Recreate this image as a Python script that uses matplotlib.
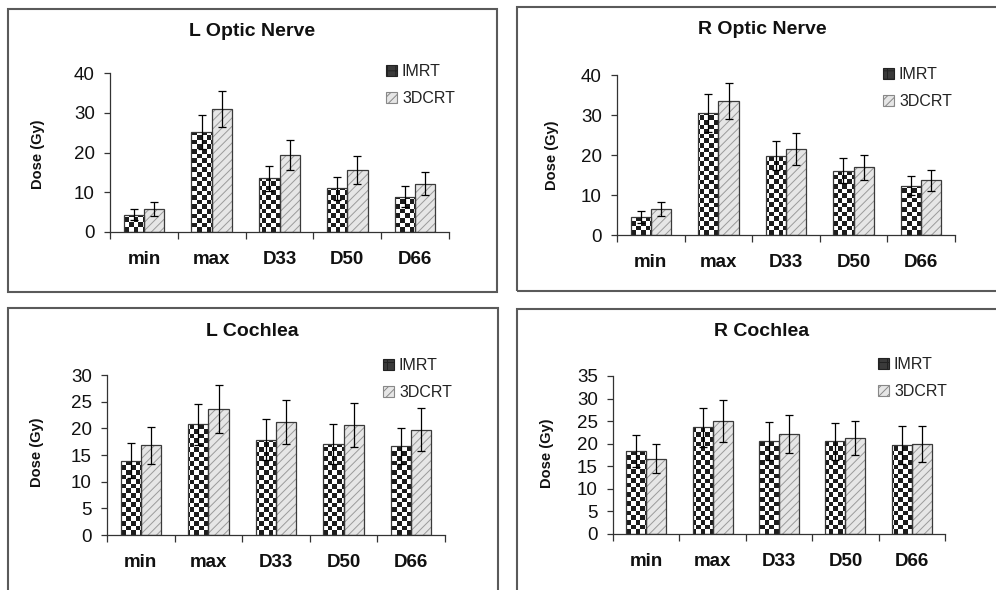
import numpy as np
import matplotlib
matplotlib.use('Agg')
import matplotlib.pyplot as plt
from matplotlib.colors import ListedColormap
from matplotlib.patches import Rectangle, Patch

plt.rcParams['font.family'] = ['Liberation Sans', 'DejaVu Sans']
plt.rcParams['hatch.linewidth'] = 0.7

W, H = 996, 590

# dane
cats = ['min', 'max', 'D33', 'D50', 'D66']
series = ['IMRT', '3DCRT']

lon_imrt = [4.3, 25.1, 13.5, 11.0, 8.9]
lon_imrt_sd = [1.4, 4.3, 3.2, 2.9, 2.7]
lon_3d = [5.7, 31.0, 19.4, 15.6, 12.2]
lon_3d_sd = [1.8, 4.5, 3.7, 3.4, 2.9]

ron_imrt = [4.5, 30.5, 19.8, 16.1, 12.3]
ron_imrt_sd = [1.5, 4.7, 3.6, 3.1, 2.35]
ron_3d = [6.5, 33.4, 21.4, 16.9, 13.65]
ron_3d_sd = [1.8, 4.5, 4.0, 3.1, 2.6]

lco_imrt = [13.9, 20.75, 17.9, 17.1, 16.7]
lco_imrt_sd = [3.3, 3.9, 3.8, 3.8, 3.4]
lco_3d = [16.8, 23.6, 21.2, 20.6, 19.75]
lco_3d_sd = [3.4, 4.5, 4.2, 4.1, 4.0]

rco_imrt = [18.4, 23.6, 20.7, 20.5, 19.8]
rco_imrt_sd = [3.5, 4.4, 4.2, 4.0, 4.2]
rco_3d = [16.7, 25.0, 22.2, 21.2, 20.0]
rco_3d_sd = [3.2, 4.7, 4.2, 3.8, 4.0]

titles = ['L Optic Nerve', 'R Optic Nerve', 'L Cochlea', 'R Cochlea']
ymax = [40, 40, 30, 35]
ystep = [10, 10, 5, 5]

# układ paneli w pikselach: osie, tytuł, opis osi y, legenda, ramka
axes_px = [(110, 73, 449, 232), (617, 75, 955, 235), (107, 375, 445, 535), (613, 376, 945, 534)]
title_px = [(252, 31), (762, 29), (252, 331), (762, 332)]
ylab_px = [(38, 154), (552, 155), (37, 452), (547, 453)]
leg_px = [(386, 64), (883, 67), (383, 358), (878, 357)]
frame_px = [(8, 9, 497, 292), (517, 7, 1010, 291), (8, 308, 498, 600), (517, 309, 1010, 600)]


def fx(x):
    return x / W


def fy(y):
    return 1 - y / H


def panel(fig, k, imrt, imrt_sd, d3, d3_sd):
    x0, y0, x1, y1 = axes_px[k]
    ax = fig.add_axes([fx(x0), fy(y1), (x1 - x0) / W, (y1 - y0) / H])
    x = np.arange(len(cats)) + 0.5
    bw = 0.3

    # IMRT - szachownica
    b1 = ax.bar(x - bw / 2, imrt, bw, color='white', edgecolor='none', zorder=1)
    cell = 4.6
    nx = int((x1 - x0) / cell) + 1
    ny = int((y1 - y0) / cell) + 1
    img = np.indices((ny, nx)).sum(axis=0) % 2
    cm = ListedColormap(['white', '#1c1c1c'])
    for b in b1:
        im = ax.imshow(img, cmap=cm, extent=(0, nx * cell * 5 / (x1 - x0), 0, ny * cell * ymax[k] / (y1 - y0)),
                       aspect='auto', interpolation='nearest', zorder=2, origin='lower')
        im.set_clip_path(b)
    ax.bar(x - bw / 2, imrt, bw, fill=False, edgecolor='#3a3a3a', linewidth=0.9, zorder=3)

    # 3DCRT - szare kreskowanie
    ax.bar(x + bw / 2, d3, bw, color='#e6e6e6', edgecolor='#9a9a9a', hatch='////', linewidth=0, zorder=1)
    ax.bar(x + bw / 2, d3, bw, fill=False, edgecolor='#3a3a3a', linewidth=0.9, zorder=3)

    ax.errorbar(x - bw / 2, imrt, yerr=imrt_sd, fmt='none', ecolor='black', elinewidth=0.9,
                capsize=3, capthick=0.9, zorder=4)
    ax.errorbar(x + bw / 2, d3, yerr=d3_sd, fmt='none', ecolor='black', elinewidth=0.9,
                capsize=3, capthick=0.9, zorder=4)

    ax.set_xlim(0, 5)
    ax.set_ylim(0, ymax[k])
    ax.set_yticks(np.arange(0, ymax[k] + 1, ystep[k]))
    ax.set_xticks(x)
    ax.set_xticklabels(cats, fontsize=13.5, fontweight='bold', color='#111')
    ax.set_xticks(np.arange(0, 6), minor=True)
    ax.tick_params(axis='x', which='major', length=0, pad=14)
    ax.tick_params(axis='x', which='minor', length=5, width=0.9, color='#333', direction='out')
    ax.tick_params(axis='y', length=4, width=0.9, color='#333', pad=7, labelsize=13.5, labelcolor='#111')
    for s in ['top', 'right']:
        ax.spines[s].set_visible(False)
    for s in ['left', 'bottom']:
        ax.spines[s].set_color('#333')
        ax.spines[s].set_linewidth(0.9)
    ax.set_facecolor('none')

    tx, ty = title_px[k]
    fig.text(fx(tx), fy(ty), titles[k], ha='center', va='center', fontsize=14, fontweight='bold', color='#111')
    lx, ly = ylab_px[k]
    fig.text(fx(lx), fy(ly), 'Dose (Gy)', ha='center', va='center', rotation=90,
             fontsize=10.5, fontweight='bold', color='#111')

    h1 = Patch(facecolor='#3a3a3a', edgecolor='#222', hatch='++', linewidth=0.8)
    h2 = Patch(facecolor='#e6e6e6', edgecolor='#888', hatch='////', linewidth=0.8)
    gx, gy = leg_px[k]
    ax.legend([h1, h2], series, loc='upper left', bbox_to_anchor=(fx(gx), fy(gy)),
              bbox_transform=fig.transFigure, frameon=False, fontsize=11.5,
              handlelength=0.7, handleheight=0.7, handletextpad=0.3, labelspacing=0.75,
              borderpad=0, borderaxespad=0, labelcolor='#222')

    fx0, fy0, fx1, fy1 = frame_px[k]
    fig.patches.append(Rectangle((fx(fx0), fy(fy1)), (fx1 - fx0) / W, (fy1 - fy0) / H,
                                 transform=fig.transFigure, fill=False, edgecolor='#5a5a5a',
                                 linewidth=1.5, zorder=0))
    return ax


fig = plt.figure(figsize=(W / 100, H / 100), dpi=100)
panel(fig, 0, lon_imrt, lon_imrt_sd, lon_3d, lon_3d_sd)
panel(fig, 1, ron_imrt, ron_imrt_sd, ron_3d, ron_3d_sd)
panel(fig, 2, lco_imrt, lco_imrt_sd, lco_3d, lco_3d_sd)
panel(fig, 3, rco_imrt, rco_imrt_sd, rco_3d, rco_3d_sd)

fig.savefig('out.png', dpi=100)
